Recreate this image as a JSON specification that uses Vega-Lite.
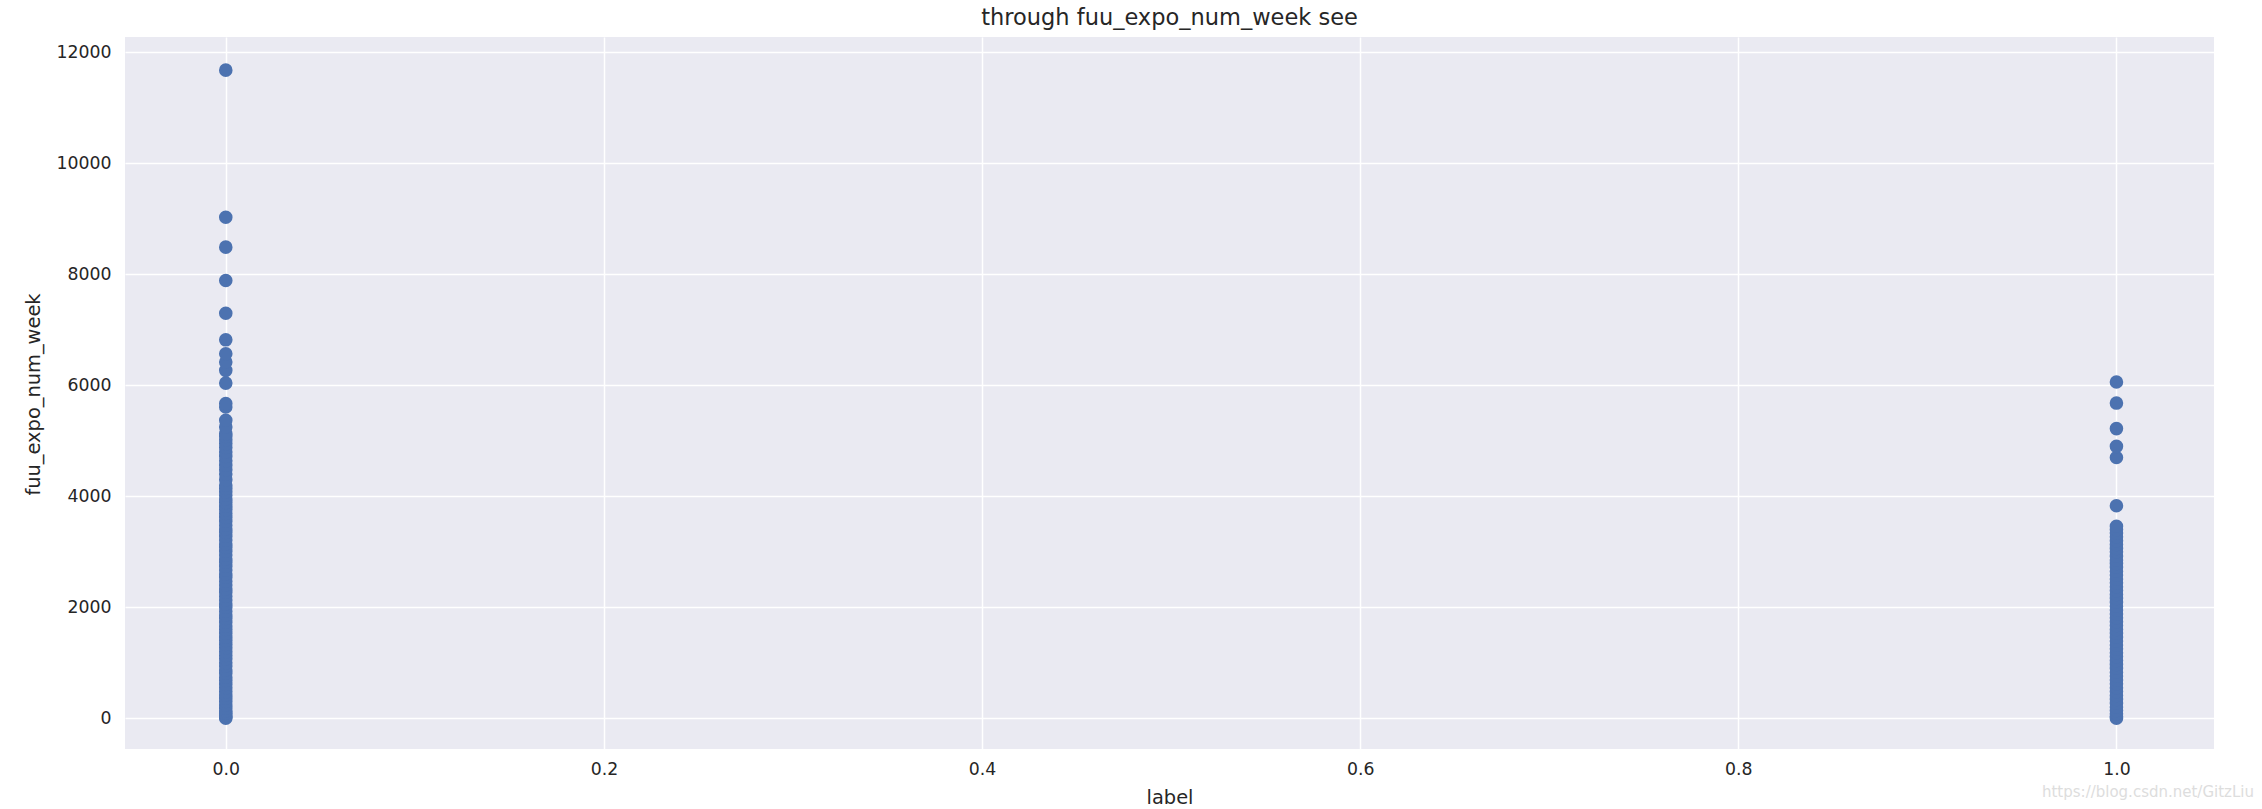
{
  "$schema": "https://vega.github.io/schema/vega-lite/v6.json",
  "autosize": {"type": "none"},
  "width": 2089,
  "height": 712,
  "padding": {"left": 125, "top": 37, "right": 48, "bottom": 60},
  "background": "white",
  "title": {"text": "through fuu_expo_num_week see", "font": "DejaVu Sans", "fontSize": 22.5, "fontWeight": "normal", "color": "#262626", "offset": 8},
  "config": {
    "view": {"fill": "#EAEAF2", "stroke": null},
    "axis": {"font": "DejaVu Sans", "labelFont": "DejaVu Sans", "titleFont": "DejaVu Sans", "labelFontSize": 17.3, "titleFontSize": 19.4, "labelColor": "#262626", "titleColor": "#262626", "titleFontWeight": "normal", "grid": true, "gridColor": "#FFFFFF", "gridWidth": 1.5, "domain": false, "ticks": false}
  },
  "layer": [
    {
      "data": {"values": [
        {"label": 0, "v": 0}, {"label": 0, "v": 20}, {"label": 0, "v": 50}, {"label": 0, "v": 90}, {"label": 0, "v": 130}, {"label": 0, "v": 180}, {"label": 0, "v": 240}, {"label": 0, "v": 300}, {"label": 0, "v": 360}, {"label": 0, "v": 420}, {"label": 0, "v": 480}, {"label": 0, "v": 550}, {"label": 0, "v": 610}, {"label": 0, "v": 680}, {"label": 0, "v": 740}, {"label": 0, "v": 810}, {"label": 0, "v": 870}, {"label": 0, "v": 940}, {"label": 0, "v": 1000}, {"label": 0, "v": 1070}, {"label": 0, "v": 1130}, {"label": 0, "v": 1200}, {"label": 0, "v": 1270}, {"label": 0, "v": 1330}, {"label": 0, "v": 1400}, {"label": 0, "v": 1460}, {"label": 0, "v": 1530}, {"label": 0, "v": 1600}, {"label": 0, "v": 1660}, {"label": 0, "v": 1730}, {"label": 0, "v": 1800}, {"label": 0, "v": 1860}, {"label": 0, "v": 1930}, {"label": 0, "v": 2000}, {"label": 0, "v": 2060}, {"label": 0, "v": 2130}, {"label": 0, "v": 2200}, {"label": 0, "v": 2270}, {"label": 0, "v": 2330}, {"label": 0, "v": 2400}, {"label": 0, "v": 2470}, {"label": 0, "v": 2540}, {"label": 0, "v": 2600}, {"label": 0, "v": 2670}, {"label": 0, "v": 2740}, {"label": 0, "v": 2810}, {"label": 0, "v": 2870}, {"label": 0, "v": 2940}, {"label": 0, "v": 3010}, {"label": 0, "v": 3080}, {"label": 0, "v": 3140}, {"label": 0, "v": 3210}, {"label": 0, "v": 3280}, {"label": 0, "v": 3350}, {"label": 0, "v": 3410}, {"label": 0, "v": 3480}, {"label": 0, "v": 3550}, {"label": 0, "v": 3620}, {"label": 0, "v": 3690}, {"label": 0, "v": 3760}, {"label": 0, "v": 3820}, {"label": 0, "v": 3890}, {"label": 0, "v": 3950}, {"label": 0, "v": 4020}, {"label": 0, "v": 4080}, {"label": 0, "v": 4140}, {"label": 0, "v": 4200}, {"label": 0, "v": 4300}, {"label": 0, "v": 4400}, {"label": 0, "v": 4480}, {"label": 0, "v": 4560}, {"label": 0, "v": 4640}, {"label": 0, "v": 4720}, {"label": 0, "v": 4800}, {"label": 0, "v": 4880}, {"label": 0, "v": 4950}, {"label": 0, "v": 5020}, {"label": 0, "v": 5080}, {"label": 0, "v": 5130}, {"label": 0, "v": 5250}, {"label": 0, "v": 5370}, {"label": 0, "v": 5610}, {"label": 0, "v": 5670}, {"label": 0, "v": 6040}, {"label": 0, "v": 6270}, {"label": 0, "v": 6420}, {"label": 0, "v": 6570}, {"label": 0, "v": 6820}, {"label": 0, "v": 7300}, {"label": 0, "v": 7890}, {"label": 0, "v": 8490}, {"label": 0, "v": 9030}, {"label": 0, "v": 11680},
        {"label": 1, "v": 0}, {"label": 1, "v": 30}, {"label": 1, "v": 80}, {"label": 1, "v": 140}, {"label": 1, "v": 200}, {"label": 1, "v": 270}, {"label": 1, "v": 340}, {"label": 1, "v": 410}, {"label": 1, "v": 480}, {"label": 1, "v": 550}, {"label": 1, "v": 620}, {"label": 1, "v": 690}, {"label": 1, "v": 760}, {"label": 1, "v": 830}, {"label": 1, "v": 900}, {"label": 1, "v": 970}, {"label": 1, "v": 1040}, {"label": 1, "v": 1110}, {"label": 1, "v": 1180}, {"label": 1, "v": 1250}, {"label": 1, "v": 1320}, {"label": 1, "v": 1390}, {"label": 1, "v": 1460}, {"label": 1, "v": 1530}, {"label": 1, "v": 1600}, {"label": 1, "v": 1670}, {"label": 1, "v": 1740}, {"label": 1, "v": 1810}, {"label": 1, "v": 1880}, {"label": 1, "v": 1950}, {"label": 1, "v": 2020}, {"label": 1, "v": 2090}, {"label": 1, "v": 2160}, {"label": 1, "v": 2230}, {"label": 1, "v": 2300}, {"label": 1, "v": 2370}, {"label": 1, "v": 2440}, {"label": 1, "v": 2510}, {"label": 1, "v": 2580}, {"label": 1, "v": 2650}, {"label": 1, "v": 2720}, {"label": 1, "v": 2790}, {"label": 1, "v": 2850}, {"label": 1, "v": 2920}, {"label": 1, "v": 3000}, {"label": 1, "v": 3060}, {"label": 1, "v": 3130}, {"label": 1, "v": 3200}, {"label": 1, "v": 3270}, {"label": 1, "v": 3340}, {"label": 1, "v": 3400}, {"label": 1, "v": 3460}, {"label": 1, "v": 3830}, {"label": 1, "v": 4700}, {"label": 1, "v": 4900}, {"label": 1, "v": 5220}, {"label": 1, "v": 5680}, {"label": 1, "v": 6060}
      ]},
      "mark": {"type": "circle", "size": 185, "color": "#4C72B0", "opacity": 1},
      "encoding": {
        "x": {"field": "label", "type": "quantitative", "title": "label",
          "scale": {"domain": [-0.0533, 1.0516], "nice": false, "zero": false},
          "axis": {"values": [0, 0.2, 0.4, 0.6, 0.8, 1.0], "format": ".1f", "labelPadding": 11, "titleBaseline": "alphabetic", "titleY": 54}},
        "y": {"field": "v", "type": "quantitative", "title": "fuu_expo_num_week",
          "scale": {"domain": [-555, 12278], "nice": false, "zero": false},
          "axis": {"values": [0, 2000, 4000, 6000, 8000, 10000, 12000], "format": "d", "labelPadding": 14, "titleAngle": -90, "titleBaseline": "middle", "titleX": -92, "titleY": 357}}
      }
    },
    {
      "data": {"values": [{"t": "https://blog.csdn.net/GitzLiu"}]},
      "mark": {"type": "text", "align": "right", "baseline": "alphabetic", "font": "DejaVu Sans", "fontSize": 15, "color": "#DDDDDD", "dx": 40, "dy": 48},
      "encoding": {"text": {"field": "t"}, "x": {"datum": 1.0516}, "y": {"datum": -555}}
    }
  ]
}
